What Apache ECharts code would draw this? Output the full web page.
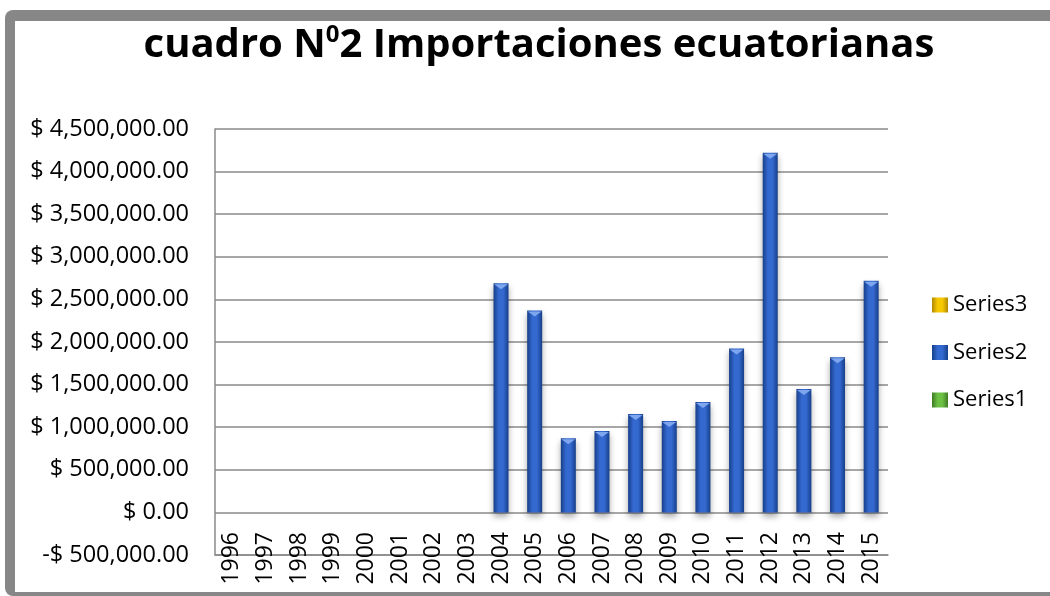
<!DOCTYPE html>
<html>
<head>
<meta charset="utf-8">
<script src="https://cdn.jsdelivr.net/npm/echarts@6/dist/echarts.min.js"></script>
<style>
html,body{margin:0;padding:0;background:#fff;}
#main{width:1050px;height:596px;}
</style>
</head>
<body>
<div id="main"></div>
<script>
var categories = ['1996','1997','1998','1999','2000','2001','2002','2003','2004','2005','2006','2007','2008','2009','2010','2011','2012','2013','2014','2015'];
var series1 = [0,0,0,0,0,0,0,0,0,0,0,0,0,0,0,0,0,0,0,0];
var series2 = [0,0,0,0,0,0,0,0,2690000,2370000,870000,955000,1155000,1072000,1295000,1925000,4220000,1447000,1820000,2720000];
var series3 = [0,0,0,0,0,0,0,0,0,0,0,0,0,0,0,0,0,0,0,0];
var yTicks = {min: -500000, max: 4500000, interval: 500000};

function money(v) {
  var neg = v < 0;
  var a = Math.abs(v).toFixed(2).split('.');
  var s = a[0].replace(/\B(?=(\d{3})+(?!\d))/g, ',');
  return (neg ? '-' : '') + '$ ' + s + '.' + a[1];
}
function grad(dark, light) {
  return new echarts.graphic.LinearGradient(0, 0, 1, 0, [
    {offset: 0, color: dark},
    {offset: 0.35, color: light},
    {offset: 0.65, color: light},
    {offset: 1, color: dark}
  ]);
}

var chart = echarts.init(document.getElementById('main'), null, {renderer: 'canvas'});
var font = '"Open Sans", "Liberation Sans", sans-serif';
chart.setOption({
  backgroundColor: '#ffffff',
  animation: false,
  graphic: [
    {type: 'rect', z: -10, shape: {x: 5, y: 10, width: 1100, height: 586, r: 8}, style: {fill: '#878787'}},
    {type: 'rect', z: -9, shape: {x: 15, y: 21, width: 1100, height: 571}, style: {fill: '#ffffff'}}
  ],
  title: {
    text: '{a|cuadro N}{s|0}{a|2 Importaciones ecuatorianas}',
    left: 534, top: 16, textAlign: 'center',
    textStyle: {
      rich: {
        a: {fontFamily: font, fontWeight: 'bold', fontSize: 40, color: '#000', lineHeight: 50},
        s: {fontFamily: font, fontWeight: 'bold', fontSize: 24, color: '#000', lineHeight: 50, padding: [0,0,22,0]}
      }
    }
  },
  legend: {
    orient: 'vertical',
    left: 927, top: 289,
    icon: 'rect',
    itemWidth: 16, itemHeight: 15, itemGap: 25.5,
    data: ['Series3', 'Series2', 'Series1'],
    textStyle: {fontFamily: font, fontSize: 22, color: '#000', lineHeight: 22},
    selectedMode: false
  },
  grid: {left: 215, right: 162, top: 129, bottom: 41, containLabel: false, outerBoundsMode: 'none'},
  xAxis: {
    type: 'category',
    data: categories,
    axisLine: {onZero: false, lineStyle: {color: '#8a8a8a', width: 1.5}},
    axisTick: {show: false},
    axisLabel: {rotate: 90, margin: -23, fontFamily: font, fontSize: 23, color: '#000', interval: 0}
  },
  yAxis: {
    type: 'value',
    min: yTicks.min, max: yTicks.max, interval: yTicks.interval,
    axisLine: {show: true, lineStyle: {color: '#8a8a8a', width: 1.5}},
    axisTick: {show: false},
    splitLine: {show: true, lineStyle: {color: '#8a8a8a', width: 1.5}},
    axisLabel: {formatter: money, margin: 26, fontFamily: font, fontSize: 23.5, color: '#000'}
  },
  series: [
    {name: 'Series1', type: 'bar', data: series1, barWidth: 15, barGap: '30%',
     itemStyle: {color: grad('#3d7a22', '#6cc044')}},
    {name: 'Series2', type: 'bar', data: series2, barWidth: 15,
     itemStyle: {color: grad('#173f8a', '#3469d0'), shadowColor: 'rgba(0,0,0,0.35)', shadowBlur: 6, shadowOffsetY: 4}},
    {name: 'Series3', type: 'bar', data: series3, barWidth: 15,
     itemStyle: {color: grad('#b08800', '#f5c800')}},
    {name: 'bevel', type: 'custom', data: series2, z: 5, silent: true,
     renderItem: function (params, api) {
       var v = api.value(0);
       if (!(v > 0)) return null;
       var p = api.coord([params.dataIndex, v]);
       var w = 7;
       return {type: 'polygon', shape: {points: [[p[0] - w, p[1] + 1], [p[0] + w, p[1] + 1], [p[0], p[1] + 6]]},
               style: {fill: '#7ea6ee'}};
     },
     encode: {x: -1, y: 0}
    }
  ]
});
</script>
</body>
</html>
